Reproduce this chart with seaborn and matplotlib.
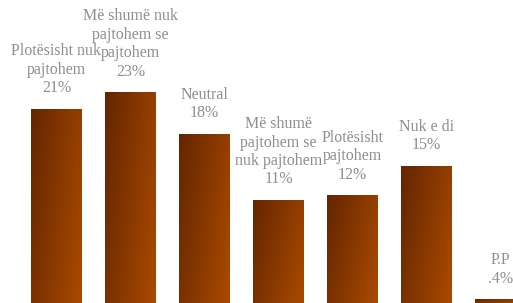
import matplotlib
matplotlib.use("Agg")
import matplotlib.pyplot as plt
import numpy as np
import pandas as pd
import seaborn as sns

# data
categories = ["Plotësisht nuk\npajtohem", "Më shumë nuk\npajtohem se\npajtohem", "Neutral",
              "Më shumë\npajtohem se\nnuk pajtohem", "Plotësisht\npajtohem", "Nuk e di", "P.P"]
values = [21.1, 22.9, 18.4, 11.2, 11.7, 14.9, 0.4]
value_labels = ["21%", "23%", "18%", "11%", "12%", "15%", ".4%"]

df = pd.DataFrame({"cat": range(len(categories)), "val": values})

sns.set_theme(style="white")
plt.rcParams["font.family"] = ["Liberation Serif", "DejaVu Serif"]

fig = plt.figure(figsize=(5.13, 3.03), dpi=100)
ax = fig.add_axes([0, 0, 1, 1])
sns.barplot(data=df, x="cat", y="val", color="#8a3d00", width=0.676, ax=ax,
            native_scale=True, saturation=1)

# gradient fill: dark brown top-left -> orange bottom-right
dark = np.array([100, 38, 0]) / 255
light = np.array([170, 74, 0]) / 255
gx, gy = np.meshgrid(np.linspace(0, 1, 60), np.linspace(0, 1, 120))
t = np.clip(0.7 * gx + 0.3 * gy, 0, 1)
grad = dark + (light - dark) * t[..., None]

for bar in ax.patches:
    x0, w, h = bar.get_x(), bar.get_width(), bar.get_height()
    bar.set_facecolor("none")
    bar.set_edgecolor("none")
    im = ax.imshow(grad, extent=[x0, x0 + w, 0, h], origin="upper",
                   aspect="auto", zorder=bar.get_zorder(), interpolation="bilinear")
    im.set_clip_path(bar)

for i, (cat, v, lab) in enumerate(zip(categories, values, value_labels)):
    ax.annotate(cat + "\n" + lab, (i, v), xytext=(0, 9), textcoords="offset points",
                ha="center", va="bottom", fontsize=11.5, color="#8e8e8e",
                linespacing=1.2, annotation_clip=False)

ax.set_xlim(-0.7635, 6.169)
ax.set_ylim(0, 32.9)
ax.set_axis_off()

fig.savefig("out.png", dpi=100)
